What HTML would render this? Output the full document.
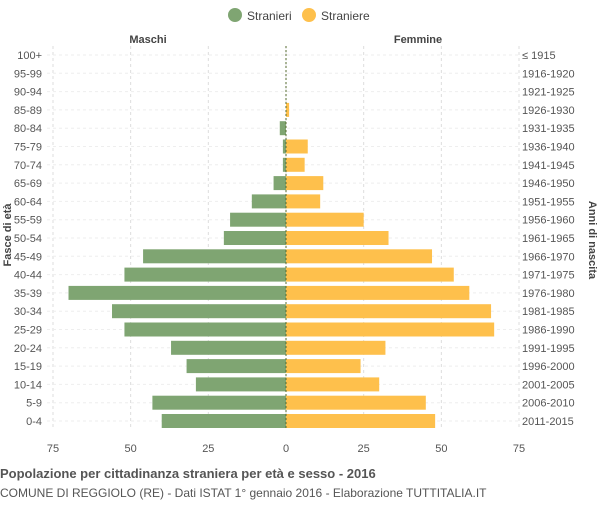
<!DOCTYPE html>
<html><head><meta charset="utf-8"><style>
body{margin:0;background:#fff;font-family:"Liberation Sans",sans-serif}
svg text{font-family:"Liberation Sans",sans-serif}
</style></head><body>
<svg id="c" width="600" height="500" xmlns="http://www.w3.org/2000/svg">
<g>
<circle cx="235" cy="15" r="7" fill="#7fa572"/>
<text x="247" y="20" font-size="12" fill="#444">Stranieri</text>
<circle cx="309" cy="15" r="7" fill="#fec04c"/>
<text x="321" y="20" font-size="12" fill="#444">Straniere</text>
</g>
<text x="148" y="43" font-size="11" font-weight="bold" fill="#444" text-anchor="middle">Maschi</text>
<text x="418" y="43" font-size="11" font-weight="bold" fill="#444" text-anchor="middle">Femmine</text>
<g id="grid"></g><g id="bars"></g><g id="labels"></g>
<text transform="translate(11,235) rotate(-90)" font-size="11" font-weight="bold" fill="#444" text-anchor="middle">Fasce di età</text>
<text transform="translate(589,240) rotate(90)" font-size="11" font-weight="bold" fill="#444" text-anchor="middle">Anni di nascita</text>
<text x="0" y="478" font-size="13" font-weight="bold" fill="#555">Popolazione per cittadinanza straniera per età e sesso - 2016</text>
<text x="0" y="497" font-size="12" fill="#555">COMUNE DI REGGIOLO (RE) - Dati ISTAT 1° gennaio 2016 - Elaborazione TUTTITALIA.IT</text>
</svg>
<script>
const ages=["100+","95-99","90-94","85-89","80-84","75-79","70-74","65-69","60-64","55-59","50-54","45-49","40-44","35-39","30-34","25-29","20-24","15-19","10-14","5-9","0-4"];
const years=["≤ 1915","1916-1920","1921-1925","1926-1930","1931-1935","1936-1940","1941-1945","1946-1950","1951-1955","1956-1960","1961-1965","1966-1970","1971-1975","1976-1980","1981-1985","1986-1990","1991-1995","1996-2000","2001-2005","2006-2010","2011-2015"];
const males=[0,0,0,0,2,1,1,4,11,18,20,46,52,70,56,52,37,32,29,43,40];
const females=[0,0,0,1,0,7,6,12,11,25,33,47,54,59,66,67,32,24,30,45,48];
const ticks=[75,50,25,0,25,50,75];
const NS="http://www.w3.org/2000/svg";
const cx=286,k=3.107,top0=46,step=18.3;
const x=v=>cx+v*k, y=i=>top0+i*step;
function mk(p,t,a){const e=document.createElementNS(NS,t);for(const q in a)e.setAttribute(q,a[q]);document.getElementById(p).appendChild(e);return e;}
ticks.forEach((t,j)=>{const xv=x((j-3)*25);
 const l=mk("grid","line",{x1:xv,x2:xv,y1:46,y2:430,stroke:"#ddd","stroke-dasharray":"3,3"});
 
 
 const tx=mk("labels","text",{x:xv,y:452,"font-size":11,fill:"#555","text-anchor":"middle"});tx.textContent=t;
 
 });
ages.forEach((a,i)=>{const yc=y(i)+9;
 const g=mk("grid","line",{x1:47,x2:520,y1:yc,y2:yc,stroke:"#eee","stroke-dasharray":"3,3"});
 
 
 const m=mk("bars","rect",{x:x(-males[i]),y:yc-7,width:males[i]*k,height:14,fill:"#7fa572"});
 
 
 const f=mk("bars","rect",{x:cx,y:yc-7,width:females[i]*k,height:14,fill:"#fec04c"});
 
 
 const t1=mk("labels","text",{x:42,y:yc+4,"font-size":11,fill:"#555","text-anchor":"end"});t1.textContent=a;
 
 
 const t2=mk("labels","text",{x:522,y:yc+4,"font-size":11,fill:"#555"});t2.textContent=years[i];
 
 });
const ax=mk("bars","line",{x1:cx,x2:cx,y1:46,y2:430,stroke:"#556b2f","stroke-dasharray":"2,2"});


</script>
</body></html>
